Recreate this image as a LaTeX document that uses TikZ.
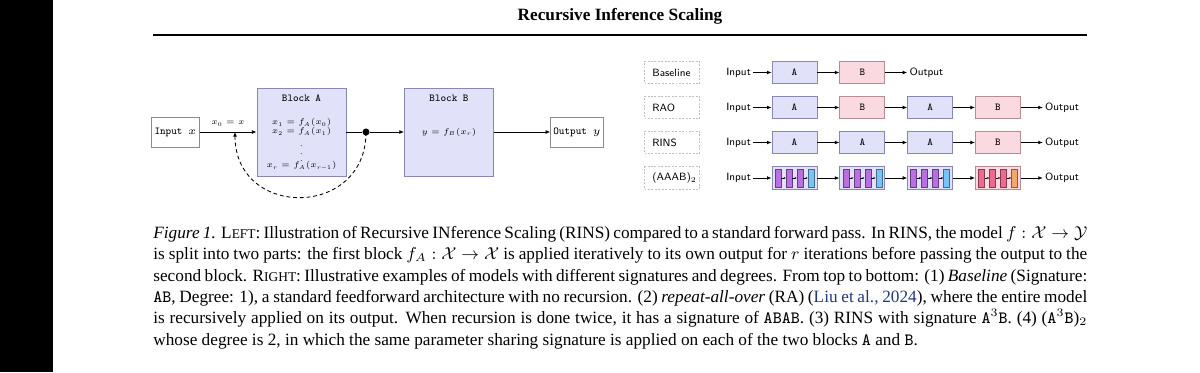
\RequirePackage{fix-cm}
\documentclass[tikz,border=0pt]{standalone}
\usepackage{fontspec}
\setmainfont{Liberation Serif}
\usepackage{xcolor}
\usetikzlibrary{arrows.meta,positioning,calc}
\definecolor{Frame}{RGB}{140,140,140}
\definecolor{LavFill}{RGB}{225,225,250}
\definecolor{LavDraw}{RGB}{135,135,180}
\definecolor{RoseFill}{RGB}{250,218,224}
\definecolor{RoseDraw}{RGB}{180,140,150}
\definecolor{Orchid}{RGB}{185,110,225}
\definecolor{Sky}{RGB}{120,195,250}
\definecolor{Coral}{RGB}{240,105,145}
\definecolor{Peach}{RGB}{245,165,110}
\definecolor{CiteBlue}{RGB}{35,55,125}
\newcommand{\blk}[1]{{\fontsize{5.5}{6}\selectfont\texttt{#1}}}
\newcommand{\fsc}[2]{#1{\fontsize{7}{8}\selectfont #2}}
\newcommand{\sig}[1]{{\ttfamily #1}}
\tikzset{
  diag/.style={font=\fontsize{5.5}{6}\selectfont},
  eqs/.style={font=\fontsize{4.3}{4.7}\selectfont,align=center,inner sep=0.5pt},
  iobox/.style={rectangle,draw=Frame,fill=white,font=\fontsize{5.5}{6}\selectfont\ttfamily,
                minimum height=15.7pt,inner xsep=1.4pt},
  bigblk/.style={rectangle,draw=LavDraw,fill=LavFill,minimum width=46.5pt,minimum height=46pt},
  tagbox/.style={rectangle,draw=black!25,dash pattern=on 1pt off 0.8pt,
                 font=\fontsize{5.5}{6}\selectfont\sffamily,text width=20.5pt,align=left,
                 inner xsep=4.1pt,inner ysep=0pt,minimum height=11.8pt},
  ablk/.style={rectangle,draw=LavDraw,fill=LavFill,minimum width=23.5pt,minimum height=11.8pt,
               inner sep=0pt,font=\fontsize{5.5}{6}\selectfont\ttfamily},
  bblk/.style={ablk,draw=RoseDraw,fill=RoseFill},
  word/.style={font=\fontsize{5.5}{6}\selectfont\sffamily,inner sep=1pt},
  sub/.style={rectangle,minimum width=3.1pt,minimum height=9.4pt,inner sep=0pt,line width=0.3pt},
  flow/.style={-{Latex[length=2.4pt,width=2pt]},line width=0.45pt},
  tinyflow/.style={-{Latex[length=1pt,width=1pt]},line width=0.25pt},
  capt/.style={anchor=north west,inner sep=0pt,text width=487.5pt,align=justify,
               font=\fontsize{9}{11.15}\selectfont},
}

\begin{document}
\begin{tikzpicture}[x=0.522pt,y=0.522pt]
  \useasboundingbox (0,0) rectangle (1200,-372);
  \fill[white] (0,0) rectangle (1200,-372);
  \fill[black] (0,0) rectangle (53,-372);
  % page heading
  \node[font=\fontsize{9}{11}\selectfont\bfseries] (ttl) at (620,-16) {Recursive Inference Scaling};
  \draw[line width=1pt] (153,-35) -- (1087,-35);

  % left: block A applied r times
  \node[iobox] (inp) at (175.5,-132) {Input $x$};
  \node[bigblk] (blkA) at (301.5,-132) {};
  \node[bigblk] (blkB) at (449,-132) {};
  \node[iobox] (outp) at (577,-132) {Output $y$};
  \node[diag,below=0.5pt of blkA.north] (hdA) {\blk{Block A}};
  \node[diag,below=0.5pt of blkB.north] (hdB) {\blk{Block B}};
  \node[eqs] (eqA) at (301.5,-127) {$x_1 = f_A(x_0)$\\$x_2 = f_A(x_1)$};
  \node[eqs] (vd) at (301.5,-148) {$\vdots$};
  \node[eqs] (eqR) at (301.5,-166) {$x_r = f_A(x_{r-1})$};
  \node[eqs] (eqB) at (blkB.center) {$y = f_B(x_r)$};
  \node[fill=black,circle,inner sep=1.3pt] (dot) at (366,-132) {};
  \coordinate (back) at (235,-132);
  \node[eqs] (xz) at (228,-124) {$x_0 = x$};
  \draw[flow] (inp) -- (blkA);
  \draw[line width=0.45pt] (blkA) -- (dot);
  \draw[flow] (dot) -- (blkB);
  \draw[flow] (blkB) -- (outp);
  \draw[flow,dash pattern=on 2pt off 1.5pt] (dot.center) to[out=-90,in=-90,looseness=1.7] (back);

  % right: signatures and degrees
  \node[tagbox] (t1) at (672,-72.5) {Baseline};
  \node[tagbox] (t2) at (672,-107.5) {RAO};
  \node[tagbox] (t3) at (672,-142.5) {RINS};
  \node[tagbox] (t4) at (672,-178) {(AAAB)$_2$};

  \node[word,anchor=west] (in1) at (724,-72.5) {Input};
  \node[ablk] (r1a) at (794.5,-72.5) {A};
  \node[bblk,right=11.5pt of r1a] (r1b) {B};
  \node[word,right=11.5pt of r1b] (o1) {Output};
  \draw[flow] (in1) -- (r1a);
  \draw[flow] (r1a) -- (r1b);
  \draw[flow] (r1b) -- (o1);

  \node[word,anchor=west] (in2) at (724,-107.5) {Input};
  \node[ablk] (r2a) at (794.5,-107.5) {A};
  \node[bblk,right=11.5pt of r2a] (r2b) {B};
  \node[ablk,right=11.5pt of r2b] (r2c) {A};
  \node[bblk,right=11.5pt of r2c] (r2d) {B};
  \node[word,right=11.5pt of r2d] (o2) {Output};
  \draw[flow] (in2) -- (r2a);
  \draw[flow] (r2a) -- (r2b);
  \draw[flow] (r2b) -- (r2c);
  \draw[flow] (r2c) -- (r2d);
  \draw[flow] (r2d) -- (o2);

  \node[word,anchor=west] (in3) at (724,-142.5) {Input};
  \node[ablk] (r3a) at (794.5,-142.5) {A};
  \node[ablk,right=11.5pt of r3a] (r3b) {A};
  \node[ablk,right=11.5pt of r3b] (r3c) {A};
  \node[bblk,right=11.5pt of r3c] (r3d) {B};
  \node[word,right=11.5pt of r3d] (o3) {Output};
  \draw[flow] (in3) -- (r3a);
  \draw[flow] (r3a) -- (r3b);
  \draw[flow] (r3b) -- (r3c);
  \draw[flow] (r3c) -- (r3d);
  \draw[flow] (r3d) -- (o3);

  \node[word,anchor=west] (in4) at (724,-178) {Input};
  \node[ablk] (q1) at (794.5,-178) {};
  \node[ablk,right=11.5pt of q1] (q2) {};
  \node[ablk,right=11.5pt of q2] (q3) {};
  \node[bblk,right=11.5pt of q3] (q4) {};
  \node[word,right=11.5pt of q4] (o4) {Output};
  \draw[flow] (in4) -- (q1);
  \draw[flow] (q1) -- (q2);
  \draw[flow] (q2) -- (q3);
  \draw[flow] (q3) -- (q4);
  \draw[flow] (q4) -- (o4);
  % layers inside each block
  \foreach \c/\main/\last in {q1/Orchid/Sky,q2/Orchid/Sky,q3/Orchid/Sky,q4/Coral/Peach}{
    \foreach \i/\dx/\col in {1/-16.5/\main,2/-5.5/\main,3/5.5/\main,4/16.5/\last}
      \node[sub,fill=\col,draw=\col!55!black] (\c-\i) at ($(\c.center)+(\dx,0)$) {};
    \foreach \i/\j in {1/2,2/3,3/4}
      \draw[tinyflow] (\c-\i) -- (\c-\j);
  }

  % caption
  \node[capt] (cap) at (153,-226) {\hyphenpenalty=10000\tolerance=10000
    \textit{Figure 1.} \fsc{L}{EFT}: Illustration of Recursive INference Scaling (RINS) compared to a standard forward pass. In RINS, the model $f:\mathcal{X}\to\mathcal{Y}$\linebreak
    is split into two parts: the first block $f_A:\mathcal{X}\to\mathcal{X}$ is applied iteratively to its own output for $r$ iterations before passing the output to the\linebreak
    second block. \fsc{R}{IGHT}: Illustrative examples of models with different signatures and degrees. From top to bottom: (1) \textit{Baseline} (Signature:\linebreak
    \sig{AB}, Degree: 1), a standard feedforward architecture with no recursion. (2) \textit{repeat-all-over} (RA) ({\color{CiteBlue}Liu et al., 2024}), where the entire model\linebreak
    is recursively applied on its output. When recursion is done twice, it has a signature of \sig{ABAB}. (3) RINS with signature \sig{A}$^3$\sig{B}. (4) (\sig{A}$^3$\sig{B})$_2$\linebreak
    whose degree is 2, in which the same parameter sharing signature is applied on each of the two blocks \sig{A} and \sig{B}.};
\end{tikzpicture}
\end{document}
